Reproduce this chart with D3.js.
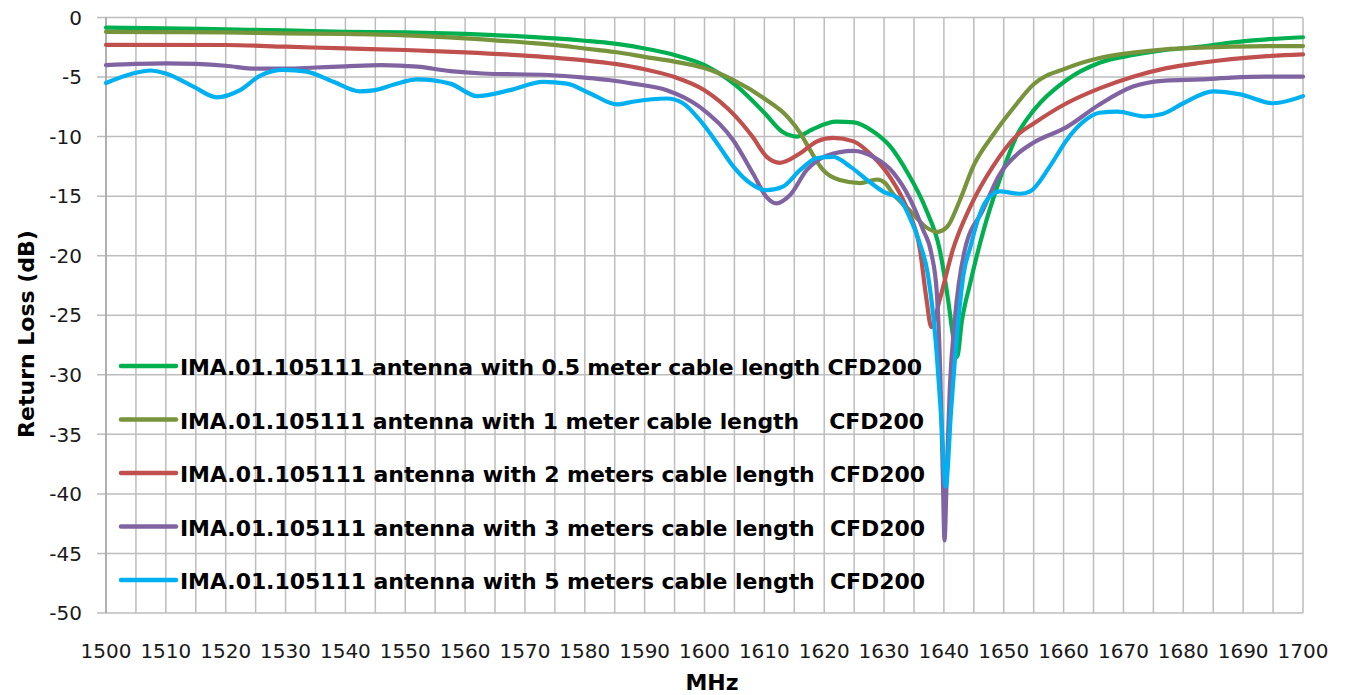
<!DOCTYPE html>
<html>
<head>
<meta charset="utf-8">
<script src="https://cdn.jsdelivr.net/npm/d3@7"></script>
<style>
  html, body { margin: 0; padding: 0; background: #fff; }
  svg { display: block; }
  .tick-label { font-family: "DejaVu Sans", sans-serif; font-size: 20px; fill: #1a1a1a; }
  .axis-title { font-family: "DejaVu Sans", sans-serif; font-size: 22px; font-weight: bold; fill: #000; }
  .legend-label { font-family: "DejaVu Sans", sans-serif; font-size: 22px; font-weight: bold; fill: #000; white-space: pre; }
</style>
</head>
<body>
<div id="chart"></div>
<script>
// return loss curves, [MHz, dB]
const cable05m = [
  [1500, -0.85], [1510, -0.91], [1520, -1.0], [1530, -1.08], [1540, -1.2], [1550, -1.25],
  [1560, -1.38], [1570, -1.6], [1575, -1.75], [1580, -1.95], [1585, -2.2], [1590, -2.6],
  [1595, -3.15], [1600, -4.0], [1605, -5.6], [1610, -8.0], [1613, -9.6], [1615.5, -10.0],
  [1618, -9.4], [1622, -8.75], [1625, -8.8], [1628, -9.5], [1631, -10.8], [1634, -13.1],
  [1637, -16.1], [1639.3, -19.5], [1640.7, -23.7], [1641.6, -27.0], [1642.2, -28.5],
  [1643, -25.5], [1644.4, -22.3], [1646.5, -18.1], [1649.4, -13.5], [1652.2, -9.9],
  [1655, -7.8], [1660.5, -5.25], [1666, -3.8], [1671.6, -3.15], [1677, -2.73],
  [1683, -2.45], [1688, -2.1], [1694, -1.83], [1700, -1.66]
];

const cable1m = [
  [1500, -1.2], [1510, -1.22], [1520, -1.25], [1530, -1.33], [1540, -1.38], [1550, -1.5],
  [1560, -1.75], [1570, -2.1], [1575, -2.3], [1580, -2.6], [1585, -2.9], [1590, -3.3],
  [1595, -3.7], [1600, -4.25], [1605, -5.3], [1610, -6.8], [1614, -8.4], [1616, -9.7],
  [1617.6, -11.1], [1619.8, -12.8], [1622.6, -13.65], [1626, -13.9], [1628.8, -13.6],
  [1630.2, -13.9], [1631.5, -14.8], [1634.3, -16.2], [1637, -17.6], [1638.8, -18.0],
  [1640.5, -17.6], [1642.7, -15.3], [1644.9, -12.5], [1648.3, -9.8], [1651.6, -7.6],
  [1655, -5.6], [1660.5, -4.25], [1666, -3.4], [1671.6, -2.95], [1677, -2.67],
  [1683, -2.53], [1688, -2.45], [1694, -2.4], [1700, -2.4]
];

const cable2m = [
  [1500, -2.3], [1520, -2.31], [1530, -2.45], [1540, -2.6], [1550, -2.73], [1560, -2.92],
  [1570, -3.2], [1580, -3.6], [1585, -3.9], [1590, -4.35], [1595, -5.0], [1600, -6.1],
  [1605, -8.2], [1608, -10.0], [1610.4, -11.7], [1612.6, -12.2], [1616, -11.4],
  [1618.8, -10.4], [1621.5, -10.1], [1624.9, -10.4], [1628.2, -11.7], [1631, -13.4],
  [1633.8, -16.0], [1636, -19.5], [1637.1, -23.7], [1637.9, -26.0], [1639.3, -23.7],
  [1641.5, -19.5], [1644.4, -15.9], [1648.2, -12.5], [1652.2, -9.9], [1655, -8.9],
  [1660.5, -7.2], [1666, -5.95], [1671.6, -4.97], [1677, -4.27], [1683, -3.8],
  [1688, -3.49], [1694, -3.24], [1700, -3.1]
];

const cable3m = [
  [1500, -4.0], [1505, -3.9], [1510, -3.85], [1515, -3.9], [1520, -4.05], [1525, -4.3],
  [1530, -4.3], [1535, -4.2], [1540, -4.1], [1546, -4.0], [1552, -4.13], [1557.5, -4.5],
  [1563, -4.7], [1574, -4.83], [1580, -5.05], [1584, -5.25], [1588, -5.55], [1593.7, -6.1],
  [1599.2, -7.5], [1604.8, -10.3], [1608.1, -13.1], [1610.4, -15.1], [1612, -15.6],
  [1614.3, -14.9], [1617.1, -12.8], [1620.4, -11.6], [1624.9, -11.2], [1628.2, -11.7],
  [1631.5, -13.0], [1634.3, -15.2], [1636.5, -17.8], [1637.9, -19.8], [1638.8, -23],
  [1639.4, -30], [1639.8, -38], [1640.1, -43.9], [1640.5, -38], [1641, -31],
  [1641.8, -25.5], [1643.5, -19.5], [1646.5, -16.2], [1649.4, -13.1], [1652.2, -11.5],
  [1655, -10.5], [1660.5, -9.2], [1666, -7.3], [1671.6, -5.8], [1677, -5.3],
  [1683, -5.2], [1688, -5.05], [1694, -4.97], [1700, -4.97]
];

const cable5m = [
  [1500, -5.5], [1504.5, -4.7], [1507.4, -4.45], [1510, -4.7], [1514.6, -5.8],
  [1518.5, -6.7], [1522.4, -6.1], [1525.7, -4.9], [1529.6, -4.4], [1533.5, -4.55],
  [1538, -5.4], [1542.4, -6.2], [1545, -6.1], [1548, -5.65], [1552, -5.2], [1557.5, -5.55],
  [1562, -6.6], [1567.5, -6.1], [1573, -5.4], [1577, -5.55], [1581, -6.4], [1585.4, -7.3],
  [1588, -7.07], [1593.7, -6.8], [1596.4, -7.2], [1599.2, -8.6], [1602.1, -10.55],
  [1604.8, -12.5], [1607.6, -13.9], [1610.4, -14.5], [1613.1, -14.2], [1616, -12.8],
  [1618.8, -11.8], [1621.5, -11.7], [1624.3, -12.5], [1627.2, -13.65], [1629.8, -14.6],
  [1632.7, -15.3], [1634.3, -16.8], [1636, -19.0], [1637.3, -21.5], [1638.6, -27],
  [1639.6, -34], [1640.3, -39.4], [1641.2, -33], [1642.3, -26], [1643.3, -21.5],
  [1644.4, -19.3], [1645.8, -16.8], [1647.2, -15.3], [1649.4, -14.6], [1652.7, -14.8],
  [1654.4, -14.6], [1657.7, -12.5], [1660.5, -10.3], [1663.3, -8.75], [1666, -8.0],
  [1669, -7.9], [1673.5, -8.3], [1676.5, -8.1], [1680, -7.2], [1685, -6.2],
  [1689.5, -6.45], [1695, -7.2], [1700, -6.6]
];

const seriesNames = [
  'IMA.01.105111 antenna with 0.5 meter cable length CFD200',
  'IMA.01.105111 antenna with 1 meter cable length    CFD200',
  'IMA.01.105111 antenna with 2 meters cable length  CFD200',
  'IMA.01.105111 antenna with 3 meters cable length  CFD200',
  'IMA.01.105111 antenna with 5 meters cable length  CFD200'
];
const seriesColors = ['#00b050', '#77933c', '#c0504d', '#8064a2', '#00b0f0'];
const seriesData = [cable05m, cable1m, cable2m, cable3m, cable5m];

const xTicks = d3.range(1500, 1701, 10);
const xGrid = d3.range(1500, 1701, 5);
const yTicks = d3.range(0, -51, -5);

const width = 1347;
const height = 695;
const plot = { left: 106, right: 1303, top: 17.5, bottom: 613 };

const svg = d3.select('#chart').append('svg')
  .attr('width', width)
  .attr('height', height);

const x = d3.scaleLinear().domain([1500, 1700]).range([plot.left, plot.right]);
const y = d3.scaleLinear().domain([0, -50]).range([plot.top, plot.bottom]);

// grid
const grid = svg.append('g').attr('stroke', '#bdbdbd').attr('stroke-width', 1.5);
grid.selectAll('line.v').data(xGrid).enter().append('line')
  .attr('class', 'v')
  .attr('x1', d => x(d)).attr('x2', d => x(d))
  .attr('y1', plot.top).attr('y2', plot.bottom);
grid.selectAll('line.h').data(yTicks).enter().append('line')
  .attr('class', 'h')
  .attr('x1', plot.left - 9).attr('x2', plot.right)
  .attr('y1', d => y(d)).attr('y2', d => y(d));

// left axis line
svg.append('line')
  .attr('x1', plot.left).attr('x2', plot.left)
  .attr('y1', plot.top).attr('y2', plot.bottom)
  .attr('stroke', '#a6a6a6').attr('stroke-width', 1.5);

// tick labels
svg.append('g').selectAll('text').data(yTicks).enter().append('text')
  .attr('class', 'tick-label')
  .attr('x', 82)
  .attr('y', d => y(d))
  .attr('dy', '0.36em')
  .attr('text-anchor', 'end')
  .text(d => d);

svg.append('g').selectAll('text').data(xTicks).enter().append('text')
  .attr('class', 'tick-label')
  .attr('x', d => x(d))
  .attr('y', 658)
  .attr('text-anchor', 'middle')
  .text(d => d);

// axis titles
svg.append('text')
  .attr('class', 'axis-title')
  .attr('transform', 'translate(34,334) rotate(-90)')
  .attr('text-anchor', 'middle')
  .text('Return Loss (dB)');

svg.append('text')
  .attr('class', 'axis-title')
  .attr('x', 712)
  .attr('y', 690)
  .attr('text-anchor', 'middle')
  .text('MHz');

// curves
const line = d3.line()
  .x(d => x(d[0]))
  .y(d => y(d[1]))
  .curve(d3.curveMonotoneX);

svg.append('g').selectAll('path').data(seriesData).enter().append('path')
  .attr('d', line)
  .attr('fill', 'none')
  .attr('stroke', (d, i) => seriesColors[i])
  .attr('stroke-width', 4.2)
  .attr('stroke-linejoin', 'round')
  .attr('stroke-linecap', 'round');

// legend inside the plot
const legendTop = 366;
const legendStep = 53.5;
const legendWidths = [742, 744, 745, 745, 745];
const legend = svg.append('g');
seriesNames.forEach((name, i) => {
  const ly = legendTop + i * legendStep;
  legend.append('line')
    .attr('x1', 121).attr('x2', 176)
    .attr('y1', ly).attr('y2', ly)
    .attr('stroke', seriesColors[i])
    .attr('stroke-width', 4.5)
    .attr('stroke-linecap', 'round');
  legend.append('text')
    .attr('class', 'legend-label')
    .attr('x', 180)
    .attr('y', ly + 9)
    .attr('textLength', legendWidths[i])
    .attr('lengthAdjust', 'spacing')
    .text(name);
});
</script>
</body>
</html>
